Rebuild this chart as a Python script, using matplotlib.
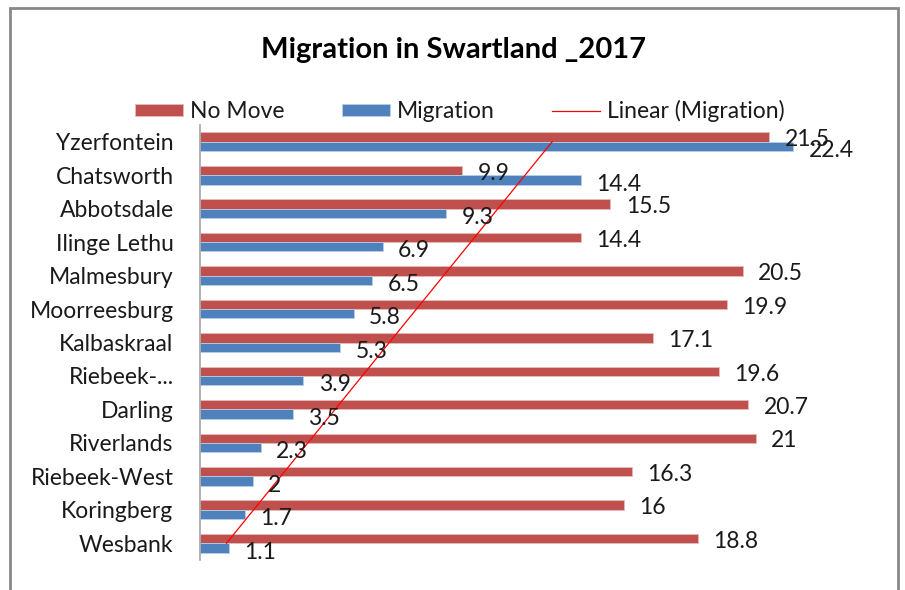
import matplotlib.pyplot as plt
import numpy as np
from matplotlib.patches import Rectangle

# categories listed bottom to top
towns = ['Wesbank', 'Koringberg', 'Riebeek-West', 'Riverlands', 'Darling', 'Riebeek-...',
         'Kalbaskraal', 'Moorreesburg', 'Malmesbury', 'Ilinge Lethu', 'Abbotsdale',
         'Chatsworth', 'Yzerfontein']
no_move = [18.8, 16, 16.3, 21, 20.7, 19.6, 17.1, 19.9, 20.5, 14.4, 15.5, 9.9, 21.5]
migration = [1.1, 1.7, 2, 2.3, 3.5, 3.9, 5.3, 5.8, 6.5, 6.9, 9.3, 14.4, 22.4]
# linear trend of migration as drawn (value at first and last category)
trend_values = [1.0, 13.3]

red = '#C0504D'
blue = '#4F81BD'

plt.rcParams['font.family'] = ['Lato', 'DejaVu Sans']

fig = plt.figure(figsize=(9.05, 5.9), dpi=100)
fig.patches.append(Rectangle((10 / 905, -0.1), 888 / 905, 1.1 - 8 / 590,
                             transform=fig.transFigure, fill=False,
                             edgecolor='#888888', linewidth=2))

ax = fig.add_axes([200 / 905, 1 - 560 / 590, 662 / 905, 435 / 590])

y = np.arange(len(towns))
h = 0.28
b1 = ax.barh(y + h / 2, no_move, height=h, color=red, edgecolor='#E6B9B8', linewidth=0.6)
b2 = ax.barh(y - h / 2, migration, height=h, color=blue, edgecolor='#B9CDE5', linewidth=0.6)
ln, = ax.plot(trend_values, [y[0], y[-1]], color='#FF0000', linewidth=0.9)

for i in range(len(towns)):
    ax.annotate(f'{no_move[i]:g}', (no_move[i], y[i] + h / 2), xytext=(11, -2),
                textcoords='offset points', va='center', ha='left', fontsize=16.5, color='#1a1a1a')
    ax.annotate(f'{migration[i]:g}', (migration[i], y[i] - h / 2), xytext=(11, -3),
                textcoords='offset points', va='center', ha='left', fontsize=16.5, color='#1a1a1a')

ax.set_xlim(0, 25)
ax.set_ylim(-0.5, len(towns) - 0.5)
ax.set_yticks(y)
ax.set_yticklabels(towns, fontsize=16.5, color='#1a1a1a')
ax.tick_params(axis='y', length=0, pad=19)
ax.set_xticks([])
for s in ['top', 'right', 'bottom']:
    ax.spines[s].set_visible(False)
ax.spines['left'].set_color('#A6A6A6')
ax.spines['left'].set_linewidth(1.2)

leg = fig.legend([b1, b2, ln], ['No Move', 'Migration', 'Linear (Migration)'],
                 loc='center', bbox_to_anchor=(460 / 905, 1 - 111 / 590), ncol=3, frameon=False,
                 fontsize=16.5, handlelength=2.1, handleheight=0.4, columnspacing=2.5,
                 handletextpad=0.3)
for t in leg.get_texts():
    t.set_color('#1a1a1a')

fig.text(453 / 905, 1 - 50 / 590, 'Migration in Swartland _2017', ha='center', va='center',
         fontsize=21, fontweight='bold', color='#000000')

fig.savefig('out.png', dpi=100)
